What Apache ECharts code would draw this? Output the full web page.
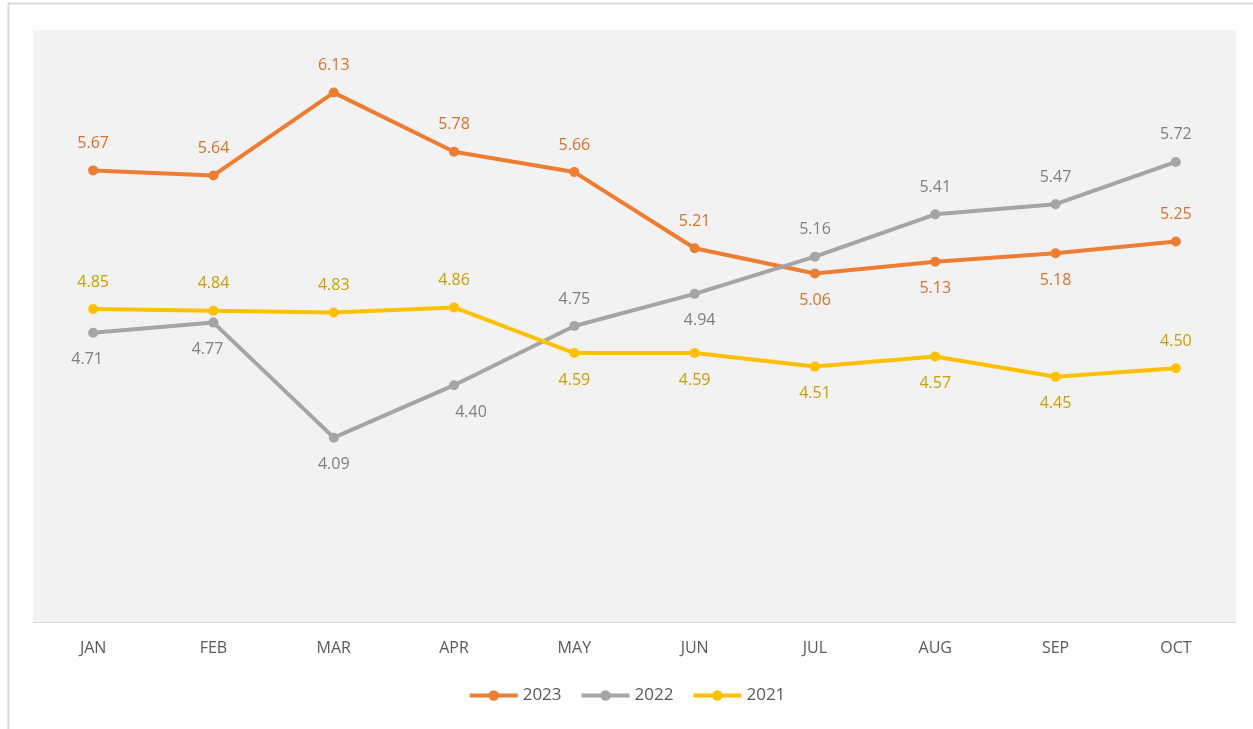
<!DOCTYPE html>
<html><head><meta charset="utf-8">
<script src="https://cdn.jsdelivr.net/npm/echarts@6/dist/echarts.min.js"></script>
<style>html,body{margin:0;padding:0;background:#fff}#c{width:1253px;height:729px}</style>
</head><body><div id="c"></div>
<script>
const categories = ['JAN','FEB','MAR','APR','MAY','JUN','JUL','AUG','SEP','OCT'];
const s2023 = [5.67, 5.64, 6.13, 5.78, 5.66, 5.21, 5.06, 5.13, 5.18, 5.25];
const s2022 = [4.71, 4.77, 4.09, 4.40, 4.75, 4.94, 5.16, 5.41, 5.47, 5.72];
const s2021 = [4.85, 4.84, 4.83, 4.86, 4.59, 4.59, 4.51, 4.57, 4.45, 4.50];
// label placement per point (style)
const pos2023 = ['top','top','top','top','top','top','bottom','bottom','bottom','top'];
const pos2022 = ['bottom','bottom','bottom','bottom','top','bottom','top','top','top','top'];
const pos2021 = ['top','top','top','top','bottom','bottom','bottom','bottom','bottom','top'];
const off2022 = [[-6,0],[-6,0],[0,0],[17,0],[0,0],[5,0],[0,0],[0,0],[0,0],[0,0]];

const chart = echarts.init(document.getElementById('c'));
const font = 'Open Sans, Liberation Sans, sans-serif';
function mk(name, vals, color, labelColor, pos, offs){
  return {
    name, type:'line', data: vals.map((v,i)=>({value:v, label:{position:pos[i], offset: offs? offs[i]:[0,0]}})),
    symbol:'circle', symbolSize:10,
    lineStyle:{width:4, color}, itemStyle:{color},
    label:{show:true, color:labelColor, fontSize:16, fontFamily:font, distance:14,
      formatter: p => p.value.toFixed(2)},
    emphasis:{disabled:true}, animation:false
  };
}
chart.setOption({
  animation:false,
  graphic:[{type:'rect', shape:{x:8.5,y:3.5,width:1260,height:740}, style:{fill:'none', stroke:'#d9d9d9', lineWidth:2}, silent:true}],
  grid:{left:33,right:17,top:30,bottom:107, show:true, backgroundColor:'#f2f2f2', borderWidth:0},
  xAxis:{type:'category', data:categories, boundaryGap:true,
    axisLine:{lineStyle:{color:'#d9d9d9', width:1}}, axisTick:{show:false},
    axisLabel:{color:'#595959', fontSize:16, fontFamily:font, margin:18}},
  yAxis:{type:'value', min:3, max:6.5, interval:0.5, show:false, splitLine:{show:false}},
  legend:{bottom:20, left:'center', itemWidth:48, itemHeight:13, itemGap:18,
    lineStyle:{width:4},
    textStyle:{color:'#595959', fontSize:17, fontFamily:font}},
  series:[
    mk('2023', s2023, '#ed7d31', '#d9702b', pos2023),
    mk('2022', s2022, '#a5a5a5', '#7f7f7f', pos2022, off2022),
    mk('2021', s2021, '#ffc000', '#c9a000', pos2021)
  ]
});
</script></body></html>
